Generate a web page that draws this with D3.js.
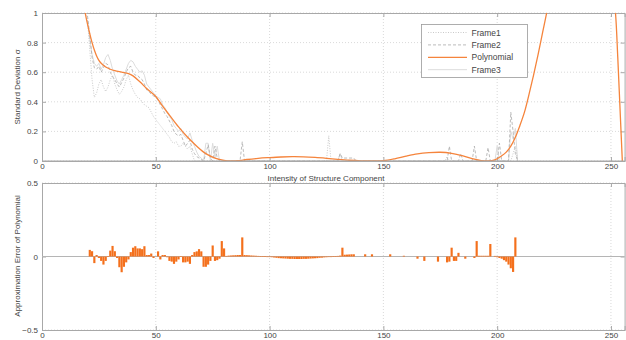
<!DOCTYPE html>
<html><head><meta charset="utf-8">
<script src="https://cdn.jsdelivr.net/npm/d3@7/dist/d3.min.js"></script>
<style>
html,body{margin:0;padding:0;background:#fff;}
svg{display:block;font-family:"Liberation Sans",Arial,sans-serif;}
</style></head><body>
<svg id="chart" width="626" height="340"></svg>
<script>
// ---------------- DATA ----------------
const xTicks = [0, 50, 100, 150, 200, 250];
const yTicksTop = [0, 0.2, 0.4, 0.6, 0.8, 1];
const yTicksBottom = [-0.5, 0, 0.5];
const legendLabels = ["Frame1", "Frame2", "Polynomial", "Frame3"];

// Frame1 (dotted) [intensity, sigma]
const frame1 = [[19,1.05],[20,0.95],[21,0.75],[22,0.55],[23,0.43],[24,0.46],[25,0.52],[26,0.55],[27,0.5],[28,0.47],[29,0.5],[30,0.55],[31,0.58],[32,0.52],[33,0.48],[34,0.45],[35,0.47],[36,0.5],[37,0.55],[38,0.58],[39,0.52],[40,0.48],[41,0.45],[42,0.43],[43,0.42],[44,0.4],[45,0.38],[46,0.37],[47,0.36],[48,0.33],[49,0.3],[50,0.28],[51,0.26],[52,0.24],[53,0.22],[54,0.2],[55,0.18],[56,0.16],[57,0.13],[58,0.12],[59,0.13],[60,0.1],[61,0.1],[62,0.12],[63,0.1],[64,0.08],[65,0.1],[66,0.05],[67,0],[125,0],[126,0.17],[127,0],[177,0],[178,0.03],[179,0],[206,0],[207,0.05],[208,0.1],[209,0]];
// Frame2 (dashed)
const frame2 = [[20,0.98],[21,0.85],[22,0.7],[23,0.63],[24,0.62],[25,0.64],[26,0.6],[27,0.63],[28,0.66],[29,0.65],[30,0.6],[31,0.57],[32,0.55],[33,0.52],[34,0.5],[35,0.53],[36,0.56],[37,0.6],[38,0.63],[39,0.64],[40,0.6],[41,0.58],[42,0.58],[43,0.56],[44,0.55],[45,0.52],[46,0.48],[47,0.47],[48,0.45],[49,0.44],[50,0.43],[51,0.41],[52,0.38],[53,0.35],[54,0.32],[55,0.3],[56,0.27],[57,0.24],[58,0.2],[59,0.18],[60,0.17],[61,0.18],[62,0.14],[63,0.1],[64,0.12],[65,0.14],[66,0.08],[67,0.05],[68,0.03],[69,0.02],[70,0.01],[71,0],[72,0.05],[73,0.11],[74,0.02],[75,0],[76,0.1],[77,0.02],[78,0],[87,0],[88,0.13],[89,0],[130,0],[131,0.05],[132,0.02],[137,0.02],[138,0],[178,0],[179,0.1],[180,0],[183,0],[184,0.05],[185,0],[189,0],[190,0.1],[191,0],[195,0],[196,0.09],[197,0],[200,0],[201,0.12],[202,0],[205,0],[206,0.33],[207,0.2],[208,0.05],[209,0]];
// Frame3 (solid light)
const frame3 = [[20,0.95],[21,0.82],[22,0.72],[23,0.66],[24,0.64],[25,0.66],[26,0.62],[27,0.65],[28,0.7],[29,0.72],[30,0.68],[31,0.62],[32,0.58],[33,0.54],[34,0.52],[35,0.55],[36,0.58],[37,0.62],[38,0.66],[39,0.68],[40,0.67],[41,0.64],[42,0.62],[43,0.6],[44,0.61],[45,0.58],[46,0.52],[47,0.5],[48,0.48],[49,0.46],[50,0.44],[51,0.43],[52,0.42],[53,0.38],[54,0.36],[55,0.33],[56,0.3],[57,0.28],[58,0.24],[59,0.22],[60,0.2],[61,0.22],[62,0.18],[63,0.16],[64,0.15],[65,0.19],[66,0.14],[67,0.1],[68,0.06],[69,0.03],[70,0.02],[71,0],[72,0.12],[73,0.12],[74,0],[75,0.12],[76,0.02],[77,0.1],[78,0],[130,0],[131,0.05],[132,0],[199,0],[200,0.1],[201,0],[205,0],[206,0.2],[207,0.15],[208,0.22],[209,0]];
// Polynomial fit samples
const polyX = [15,17,19,20,21,22,23,24,25,26,28,30,32,35,38,40,43,46,50,53,56,60,64,68,72,76,80,83,86,90,95,100,105,110,115,120,125,130,135,140,145,150,155,160,165,170,175,180,185,190,193,196,199,202,204,206,208,210,212,214,216,218,220,222,226,232,238,244,248,250,252,253,254,255,256];
const polyY = [1.6,1.25,1.0,0.925,0.86,0.8,0.75,0.71,0.68,0.66,0.635,0.62,0.61,0.6,0.59,0.575,0.535,0.49,0.436,0.37,0.31,0.23,0.16,0.1,0.05,0.02,0.004,0.0,0.002,0.01,0.018,0.023,0.027,0.029,0.028,0.024,0.018,0.011,0.005,0.001,0.0,0.002,0.015,0.033,0.048,0.056,0.059,0.052,0.035,0.012,0.003,0.0,0.008,0.035,0.06,0.1,0.16,0.24,0.33,0.45,0.58,0.72,0.87,1.02,1.35,1.8,2.0,1.85,1.5,1.3,1.0,0.7,0.35,0.0,-0.35];
// Approximation error bars
const errX = [21,22,23,24,25,26,27,28,29,30,31,32,33,34,35,36,37,38,39,40,41,42,43,44,45,46,47,48,49,51,52,53,54,55,56,57,58,59,60,61,62,63,64,65,66,67,68,69,70,71,72,73,74,75,76,77,78,79,80,81,82,83,84,85,86,87,88,89,90,91,92,93,94,95,96,97,98,99,100,101,102,103,104,105,106,107,108,109,110,111,112,113,114,115,116,117,118,119,120,121,122,123,124,125,126,127,128,129,130,131,132,133,134,135,136,137,142,145,153,159,165,168,174,178,179,180,181,182,183,186,190,191,192,193,194,195,196,197,199,200,201,202,203,204,205,206,207,208];
const errVal = [0.045,0.036,-0.045,0.01,-0.01,-0.03,-0.055,-0.03,0.002,0.04,0.072,0.036,-0.01,-0.073,-0.107,-0.07,-0.04,-0.02,0.03,0.06,0.07,0.055,0.055,0.05,0.07,0.01,0.01,0.02,-0.01,0.035,-0.02,0.01,0.01,-0.005,-0.03,-0.035,-0.05,-0.035,-0.02,0.002,-0.04,-0.04,-0.035,-0.05,0.01,0.03,0.035,0.05,0.035,-0.07,-0.07,-0.055,-0.03,0.075,-0.03,-0.025,-0.015,0.105,0.055,0.004,0.006,0.007,0.008,0.009,0.01,0.01,0.13,0.01,0.009,0.008,0.007,0.006,0.005,0.004,0.003,0.002,0.001,-0.001,-0.003,-0.005,-0.007,-0.009,-0.011,-0.012,-0.013,-0.014,-0.015,-0.016,-0.016,-0.017,-0.017,-0.017,-0.017,-0.016,-0.016,-0.015,-0.014,-0.013,-0.012,-0.011,-0.009,-0.008,-0.006,-0.005,-0.003,-0.002,0.001,0.002,0.004,0.006,0.06,0.012,0.013,0.014,0.015,0.015,0.015,0.015,0.015,0.005,-0.015,-0.03,-0.035,-0.04,-0.035,0.06,-0.03,-0.03,0.025,-0.015,-0.01,0.105,0.005,0.005,0.005,0.005,0.005,0.085,0.004,-0.005,-0.01,-0.015,-0.025,-0.035,-0.055,-0.08,-0.105,0.13,0.07];

// ---------------- LAYOUT ----------------
const svg = d3.select("#chart");
const L = 42, R = 624.6;
const top1 = {y0: 13, y1: 161};
const top2 = {y0: 183, y1: 330};
const x = d3.scaleLinear().domain([0, 256]).range([L, R]);
const yT = d3.scaleLinear().domain([0, 1]).range([top1.y1, top1.y0]);
const yB = d3.scaleLinear().domain([-0.5, 0.5]).range([top2.y1, top2.y0]);

const gridCol = "#cfcfcf", axisCol = "#a8a8a8", textCol = "#444";
function tickLabel(d){ if (d === 0) return "0"; return String(d).replace("-", "\u2212"); }

function panel(yScale, yTicks, box, id){
  const g = svg.append("g");
  svg.append("clipPath").attr("id", id).append("rect")
     .attr("x", L).attr("y", box.y0).attr("width", R - L).attr("height", box.y1 - box.y0);
  g.selectAll(".vg").data(xTicks.filter(d => d > 0)).join("line")
    .attr("x1", d => x(d)).attr("x2", d => x(d)).attr("y1", box.y0).attr("y2", box.y1)
    .attr("stroke", gridCol).attr("stroke-width", 0.8).attr("stroke-dasharray", "1,2");
  g.selectAll(".hg").data(yTicks).join("line")
    .attr("x1", L).attr("x2", R).attr("y1", d => yScale(d)).attr("y2", d => yScale(d))
    .attr("stroke", gridCol).attr("stroke-width", 0.8).attr("stroke-dasharray", "1,2");
  const ax = g.append("g").attr("transform", `translate(0,${box.y1})`)
    .call(d3.axisBottom(x).tickValues(xTicks).tickSize(-4).tickPadding(2).tickFormat(d3.format("d")));
  const axTop = g.append("g").attr("transform", `translate(0,${box.y0})`)
    .call(d3.axisTop(x).tickValues(xTicks).tickSize(-4).tickFormat(""));
  const ay = g.append("g").attr("transform", `translate(${L},0)`)
    .call(d3.axisLeft(yScale).tickValues(yTicks).tickSize(-4).tickPadding(4).tickFormat(tickLabel));
  const ayR = g.append("g").attr("transform", `translate(${R},0)`)
    .call(d3.axisRight(yScale).tickValues(yTicks).tickSize(-4).tickFormat(""));
  [ax, axTop, ay, ayR].forEach(a => {
    a.select(".domain").attr("stroke", axisCol).attr("stroke-width", 1);
    a.selectAll(".tick line").attr("stroke", axisCol);
    a.selectAll("text").attr("fill", textCol).attr("font-size", 8).attr("font-family", "Liberation Sans, Arial, sans-serif");
  });
  return g;
}

const g1 = panel(yT, yTicksTop, top1, "clipTop");
const g2 = panel(yB, yTicksBottom, top2, "clipBot");

// ---------------- TOP: frames + polynomial ----------------
const line = d3.line().x(d => x(d[0])).y(d => yT(d[1]));
const plot1 = svg.append("g").attr("clip-path", "url(#clipTop)");
plot1.append("path").datum(frame3).attr("d", line).attr("fill", "none")
  .attr("stroke", "#dcdcdc").attr("stroke-width", 1);
plot1.append("path").datum(frame2).attr("d", line).attr("fill", "none")
  .attr("stroke", "#aaaaaa").attr("stroke-width", 0.8).attr("stroke-dasharray", "3,2");
plot1.append("path").datum(frame1).attr("d", line).attr("fill", "none")
  .attr("stroke", "#bbbbbb").attr("stroke-width", 0.8).attr("stroke-dasharray", "1,1.5");
const polyPts = polyX.map((v, i) => [v, polyY[i]]);
plot1.append("path").datum(polyPts)
  .attr("d", d3.line().curve(d3.curveCatmullRom.alpha(0.5)).x(d => x(d[0])).y(d => yT(d[1])))
  .attr("fill", "none").attr("stroke", "#f5843c").attr("stroke-width", 1.3);

svg.append("line").attr("x1", L).attr("x2", R).attr("y1", top1.y1).attr("y2", top1.y1)
  .attr("stroke", axisCol).attr("stroke-width", 1);

// legend
const lg = svg.append("g");
lg.append("rect").attr("x", 421.5).attr("y", 24.5).attr("width", 106).attr("height", 53)
  .attr("fill", "#fff").attr("stroke", "#9a9a9a").attr("stroke-width", 0.8);
const legStyles = [
  {stroke: "#bbbbbb", dash: "1,1.5", w: 0.8},
  {stroke: "#aaaaaa", dash: "3,2", w: 0.8},
  {stroke: "#f5843c", dash: null, w: 1.3},
  {stroke: "#dcdcdc", dash: null, w: 1}
];
legendLabels.forEach((lab, i) => {
  const yy = 32.5 + i * 12.4;
  lg.append("line").attr("x1", 428).attr("x2", 467).attr("y1", yy).attr("y2", yy)
    .attr("stroke", legStyles[i].stroke).attr("stroke-width", legStyles[i].w)
    .attr("stroke-dasharray", legStyles[i].dash);
  lg.append("text").attr("x", 471.5).attr("y", yy + 3).attr("font-size", 8.5)
    .attr("fill", textCol).text(lab);
});

// ---------------- BOTTOM: error bars ----------------
const plot2 = svg.append("g").attr("clip-path", "url(#clipBot)");
plot2.append("line").attr("x1", L).attr("x2", R).attr("y1", yB(0)).attr("y2", yB(0))
  .attr("stroke", "#b5b5b5").attr("stroke-width", 1);
const bw = 0.95 * (x(1) - x(0));
plot2.selectAll("rect.bar").data(errX.map((v, i) => [v, errVal[i]])).join("rect")
  .attr("x", d => x(d[0]) - bw / 2)
  .attr("width", bw)
  .attr("y", d => Math.min(yB(0), yB(d[1])))
  .attr("height", d => Math.max(0.6, Math.abs(yB(d[1]) - yB(0))))
  .attr("fill", "#f4701c");

// ---------------- AXIS TITLES ----------------
svg.append("text").attr("x", 326).attr("y", 181).attr("text-anchor", "middle")
  .attr("font-size", 8).attr("fill", textCol).text("Intensity of Structure Component");
svg.append("text").attr("transform", "translate(20,87) rotate(-90)").attr("text-anchor", "middle")
  .attr("font-size", 8).attr("fill", textCol).text("Standard Deviation σ");
svg.append("text").attr("transform", "translate(20,256) rotate(-90)").attr("text-anchor", "middle")
  .attr("font-size", 8).attr("fill", textCol).text("Approximation Error of Polynomial");
</script>
</body></html>
